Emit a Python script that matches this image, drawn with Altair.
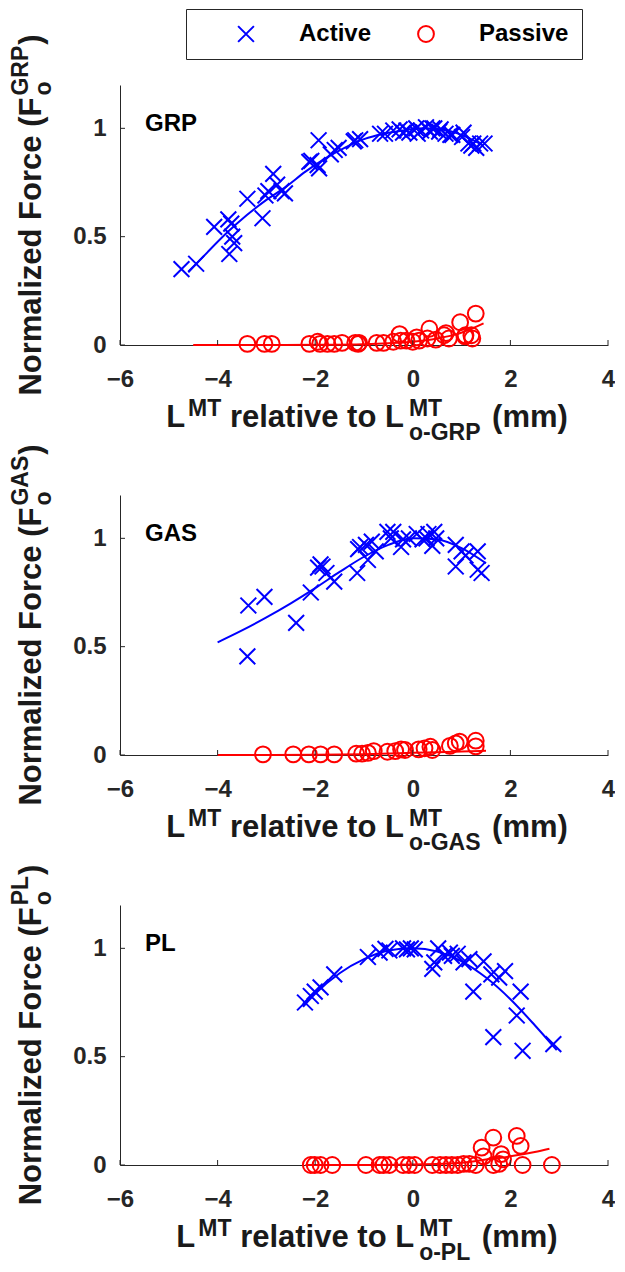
import altair as alt
import pandas as pd

# ---------------- data ----------------
muscles = ["GRP", "GAS", "PL"]
series_names = ["Active", "Passive"]
series_colors = ["#0000ff", "#ff0000"]
x_ticks = [-6, -4, -2, 0, 2, 4]
y_ticks = [0, 0.5, 1]

# GRP
grp_act_L = [-4.74, -4.44, -4.07, -3.78, -3.72, -3.70, -3.66, -3.76, -3.39, -3.08, -3.02, -2.96, -2.86, -2.78, -2.69, -2.62,
             -2.12, -2.08, -1.93, -1.95, -1.92, -1.68, -1.60, -1.52, -1.21, -1.18, -1.08, -0.67, -0.57, -0.40, -0.27, -0.20,
             -0.13, -0.07, 0.07, 0.10, 0.17, 0.27, 0.35, 0.40, 0.44, 0.54, 0.57, 0.67, 0.77, 0.81, 1.01, 1.04, 1.14, 1.20, 1.24, 1.30, 1.38, 1.47]
grp_act_F = [0.35, 0.375, 0.545, 0.58, 0.56, 0.50, 0.47, 0.42, 0.675, 0.585, 0.69, 0.71, 0.79, 0.74, 0.71, 0.70,
             0.845, 0.85, 0.945, 0.83, 0.815, 0.88, 0.90, 0.91, 0.94, 0.945, 0.95, 0.975, 0.975, 0.99, 0.995, 0.98,
             0.99, 0.98, 1.0, 0.975, 0.99, 1.005, 0.985, 1.0, 1.0, 0.985, 0.995, 0.975, 0.97, 0.97, 0.96, 0.98, 0.93, 0.92, 0.93, 0.91, 0.93, 0.93]
grp_pas_L = [-3.39, -3.04, -2.89, -2.12, -1.95, -1.90, -1.75, -1.61, -1.45, -1.18, -1.10, -1.12, -0.74, -0.60, -0.40, -0.27,
             -0.25, -0.13, 0.0, 0.08, 0.13, 0.34, 0.30, 0.47, 0.64, 0.68, 0.74, 0.97, 1.07, 1.08, 1.20, 1.29, 1.22]
grp_pas_F = [0.005, 0.005, 0.005, 0.005, 0.015, 0.005, 0.005, 0.005, 0.01, 0.01, 0.01, 0.005, 0.01, 0.01, 0.015, 0.05,
             0.02, 0.02, 0.015, 0.035, 0.02, 0.075, 0.03, 0.025, 0.045, 0.055, 0.03, 0.105, 0.04, 0.045, 0.045, 0.145, 0.03]
grp_fit_act_L = [-4.6, -4.2, -3.8, -3.4, -3.0, -2.6, -2.2, -1.8, -1.4, -1.0, -0.6, -0.2, 0.2, 0.6, 1.0, 1.45]
grp_fit_act_F = [0.335, 0.43, 0.52, 0.60, 0.67, 0.73, 0.80, 0.86, 0.91, 0.95, 0.975, 0.99, 1.0, 0.995, 0.97, 0.92]
grp_fit_pas_L = [-4.5, -3.0, -2.0, -1.0, -0.5, 0.0, 0.5, 0.9, 1.2, 1.45]
grp_fit_pas_F = [0.0, 0.0, 0.001, 0.004, 0.008, 0.015, 0.03, 0.05, 0.075, 0.10]

# GAS
gas_act_L = [-3.37, -3.39, -3.04, -2.39, -2.09, -1.94, -1.89, -1.85, -1.77, -1.61, -1.14, -1.12, -1.08, -0.96, -0.92, -0.84,
             -0.76, -0.52, -0.45, -0.40, -0.24, -0.20, -0.08, 0.08, 0.20, 0.28, 0.32, 0.40, 0.44, 0.48, 0.88, 0.88, 1.0,
             1.08, 1.33, 1.33, 1.41]
gas_act_F = [0.69, 0.455, 0.73, 0.61, 0.75, 0.865, 0.88, 0.87, 0.84, 0.80, 0.84, 0.95, 0.96, 0.97, 0.90, 0.985,
             0.94, 1.03, 1.0, 1.03, 0.96, 0.995, 1.0, 1.02, 0.995, 1.0, 1.02, 0.965, 1.03, 1.0, 0.97, 0.87, 0.94,
             0.92, 0.94, 0.855, 0.84]
gas_pas_L = [-3.07, -2.45, -2.13, -1.89, -1.61, -1.16, -1.04, -0.92, -0.80, -0.52, -0.36, -0.24, -0.16, 0.12, 0.24, 0.36,
             0.40, 0.76, 0.88, 0.96, 1.29, 1.29]
gas_pas_F = [0.003, 0.003, 0.003, 0.003, 0.003, 0.006, 0.006, 0.01, 0.018, 0.015, 0.018, 0.026, 0.023, 0.026, 0.031, 0.038,
             0.023, 0.042, 0.054, 0.062, 0.066, 0.04]
gas_fit_act_L = [-4.0, -3.5, -3.0, -2.5, -2.0, -1.5, -1.0, -0.5, 0.0, 0.5, 1.0, 1.5]
gas_fit_act_F = [0.52, 0.575, 0.635, 0.70, 0.77, 0.845, 0.915, 0.97, 1.0, 0.995, 0.955, 0.885]
gas_fit_pas_L = [-4.0, -2.0, -1.0, 0.0, 0.5, 1.0, 1.5]
gas_fit_pas_F = [0.0, 0.001, 0.004, 0.01, 0.013, 0.016, 0.02]

# PL
pl_act_L = [-2.21, -2.09, -2.01, -1.89, -1.61, -0.92, -0.68, -0.56, -0.48, -0.20, -0.12, -0.04, 0.04, 0.40, 0.44, 0.52,
            0.64, 0.76, 0.80, 0.92, 1.04, 1.16, 1.24, 1.45, 1.61, 1.65, 1.77, 1.89, 2.13, 2.21, 2.25, 2.88]
pl_act_F = [0.75, 0.78, 0.80, 0.82, 0.88, 0.96, 0.98, 0.997, 0.99, 1.0, 0.995, 1.0, 0.995, 0.905, 0.935, 1.0,
            0.965, 0.98, 0.965, 0.975, 0.935, 0.95, 0.80, 0.94, 0.88, 0.59, 0.865, 0.895, 0.69, 0.80, 0.527, 0.558]
pl_pas_L = [-2.09, -2.01, -1.89, -1.65, -0.96, -0.68, -0.60, -0.48, -0.20, -0.08, 0.04, 0.40, 0.56, 0.68, 0.80, 0.92,
            1.04, 1.16, 1.29, 1.45, 1.65, 1.41, 1.81, 1.77, 1.65, 2.13, 2.21, 2.25, 2.85, 1.85]
pl_pas_F = [0.0, 0.0, 0.0, 0.0, 0.0, 0.0, 0.0, 0.0, 0.0, 0.0, 0.0, 0.0, 0.0, 0.0, 0.0, 0.0,
            0.005, 0.005, 0.0, 0.04, 0.126, 0.08, 0.05, 0.005, 0.0, 0.134, 0.088, 0.0, 0.0, 0.026]
pl_fit_act_L = [-2.25, -2.0, -1.5, -1.0, -0.5, 0.0, 0.5, 1.0, 1.5, 2.0, 2.5, 2.95]
pl_fit_act_F = [0.73, 0.79, 0.885, 0.95, 0.99, 1.0, 0.985, 0.94, 0.865, 0.765, 0.645, 0.53]
pl_fit_pas_L = [-2.2, -1.0, 0.0, 0.5, 1.0, 1.5, 2.0, 2.5, 2.8]
pl_fit_pas_F = [0.0, 0.0, 0.002, 0.005, 0.01, 0.025, 0.04, 0.06, 0.075]

panels = [
    (grp_act_L, grp_act_F, grp_pas_L, grp_pas_F, grp_fit_act_L, grp_fit_act_F, grp_fit_pas_L, grp_fit_pas_F),
    (gas_act_L, gas_act_F, gas_pas_L, gas_pas_F, gas_fit_act_L, gas_fit_act_F, gas_fit_pas_L, gas_fit_pas_F),
    (pl_act_L, pl_act_F, pl_pas_L, pl_pas_F, pl_fit_act_L, pl_fit_act_F, pl_fit_pas_L, pl_fit_pas_F),
]

# ---------------- style ----------------
FONT = "Liberation Sans"
AX = "#262626"
W, H = 488, 260
MAIN, SMALL = 31, 23
X_SHAPE = "M-1,-1L1,1M-1,1L1,-1"

ARIAL_B = {" ": 278, "(": 333, ")": 333, "-": 333, "L": 611, "M": 833, "T": 611, "G": 778, "R": 722,
           "P": 667, "A": 722, "S": 667, "o": 611, "r": 389, "e": 556, "l": 278, "a": 556, "t": 333,
           "i": 278, "v": 556, "m": 889, "N": 722, "z": 500, "d": 611, "F": 611, "c": 556}


def tw(s, size):
    return sum(ARIAL_B.get(ch, 556) for ch in s) / 1000.0 * size


def txt(s, x, y, size, angle=0, color="#1a1a1a"):
    props = dict(align="left", baseline="alphabetic", font=FONT, fontSize=size,
                 fontWeight="bold", color=color)
    if angle:
        props["angle"] = angle
    return alt.Chart(pd.DataFrame({"t": [s]})).mark_text(**props).encode(
        x=alt.value(x), y=alt.value(y), text="t:N")


def panel(i):
    name = muscles[i]
    aL, aF, pL, pF, faL, faF, fpL, fpF = panels[i]
    pts = pd.DataFrame({
        "L": aL + pL,
        "F": aF + pF,
        "series": ["Active"] * len(aL) + ["Passive"] * len(pL),
    })
    xs = alt.Scale(domain=[-6, 4], nice=False, zero=False)
    ys = alt.Scale(domain=[0, 1.2], nice=False, zero=False)
    xax = alt.Axis(values=x_ticks, title=None, grid=False, tickSize=0, domainColor=AX, domainWidth=1,
                   labelFont=FONT, labelFontSize=24, labelFontWeight="bold", labelColor=AX, labelPadding=22,
                   labelFlush=False, format="~g")
    yax = alt.Axis(values=y_ticks, title=None, grid=False, tickSize=0, domainColor=AX, domainWidth=1,
                   labelFont=FONT, labelFontSize=24, labelFontWeight="bold", labelColor=AX, labelPadding=14,
                   labelFlush=False, format="~g")
    if i == 0:
        leg = alt.Legend(title=None, orient="none", legendX=66, legendY=-76, direction="horizontal",
                         strokeColor=AX, fillColor="white", padding=13, symbolSize=250, symbolStrokeWidth=2,
                         symbolOffset=35, labelOffset=41, columnPadding=7, labelFont=FONT, labelFontSize=24,
                         labelFontWeight="bold", labelColor="black")
    else:
        leg = None
    points = alt.Chart(pts).mark_point(filled=False, size=250, strokeWidth=2, opacity=1).encode(
        x=alt.X("L:Q", scale=xs, axis=xax),
        y=alt.Y("F:Q", scale=ys, axis=yax),
        color=alt.Color("series:N", scale=alt.Scale(domain=series_names, range=series_colors), legend=leg),
        shape=alt.Shape("series:N", scale=alt.Scale(domain=series_names, range=[X_SHAPE, "circle"]), legend=leg),
    )
    fit_a = alt.Chart(pd.DataFrame({"L": faL, "F": faF})).mark_line(
        color=series_colors[0], strokeWidth=2, interpolate="monotone").encode(
        x=alt.X("L:Q", scale=xs, axis=xax), y=alt.Y("F:Q", scale=ys, axis=yax))
    fit_p = alt.Chart(pd.DataFrame({"L": fpL, "F": fpF})).mark_line(
        color=series_colors[1], strokeWidth=2, interpolate="monotone").encode(
        x=alt.X("L:Q", scale=xs, axis=xax), y=alt.Y("F:Q", scale=ys, axis=yax))
    xt = alt.Chart(pd.DataFrame({"t": x_ticks})).mark_rule(color=AX, strokeWidth=1).encode(
        x=alt.X("t:Q", scale=xs, axis=xax), y=alt.value(H), y2=alt.value(H - 5))
    yt = alt.Chart(pd.DataFrame({"t": y_ticks})).mark_rule(color=AX, strokeWidth=1).encode(
        y=alt.Y("t:Q", scale=ys, axis=yax), x=alt.value(0), x2=alt.value(5))

    layers = [fit_p, fit_a, points, xt, yt]
    layers.append(txt(name, 25, 46, 24, color="black"))

    # x title with super/subscripts
    sub = "o-" + name
    w_L = tw("L", MAIN)
    w_MT = tw("MT", SMALL)
    w_sp = tw(" ", MAIN)
    w_rel = tw("relative to L", MAIN)
    w_sub = max(tw("MT", SMALL), tw(sub, SMALL))
    w_mm = tw("(mm)", MAIN)
    g1, g2, g3 = 3, 5, 3
    total = w_L + g1 + w_MT + w_sp + w_rel + g2 + w_sub + w_sp + g3 + w_mm
    x0 = W / 2 - total / 2 + 3
    base = H + 82
    sup_y = base - 11
    sub_y = base + 13
    layers.append(txt("L", x0, base, MAIN))
    xc = x0 + w_L + g1
    layers.append(txt("MT", xc, sup_y, SMALL))
    xc += w_MT + w_sp
    layers.append(txt("relative to L", xc, base, MAIN))
    xc += w_rel + g2
    layers.append(txt("MT", xc, sup_y, SMALL))
    layers.append(txt(sub, xc, sub_y, SMALL))
    xc += w_sub + w_sp + g3
    layers.append(txt("(mm)", xc, base, MAIN))

    # y title (rotated)
    w_main = tw("Normalized Force (F", MAIN)
    w_ysup = max(tw(name, SMALL), tw("o", SMALL))
    w_par = tw(")", MAIN)
    ytot = w_main + 2 + w_ysup + 1 + w_par
    y0 = H / 2 + ytot / 2
    bx = -79
    layers.append(txt("Normalized Force (F", bx, y0, MAIN, angle=270))
    yc = y0 - w_main - 2
    layers.append(txt("o", bx + 10, yc, SMALL, angle=270))
    layers.append(txt(name, bx - 13, yc, SMALL, angle=270))
    yc -= w_ysup + 1
    layers.append(txt(")", bx, yc, MAIN, angle=270))

    return alt.layer(*layers).properties(width=W, height=H)


chart = alt.vconcat(panel(0), panel(1), panel(2), spacing=150, bounds="flush").resolve_scale(
    color="independent", shape="independent").resolve_legend(color="independent", shape="independent").properties(
    padding={"left": 2, "top": 0, "right": 0, "bottom": 0}).configure_view(stroke=None)

chart.save("out.html", embed_options={"renderer": "svg", "actions": False})
